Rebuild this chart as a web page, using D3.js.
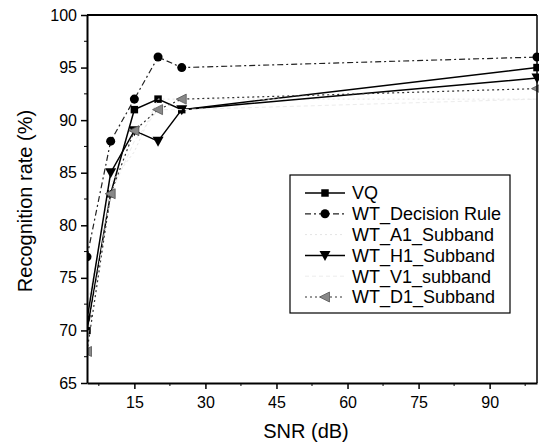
<!DOCTYPE html>
<html>
<head>
<meta charset="utf-8">
<script src="https://cdn.jsdelivr.net/npm/d3@7"></script>
<style>
  body { margin: 0; background: #fff; }
  svg { display: block; font-family: Arial, "Liberation Sans", sans-serif; }
</style>
</head>
<body>
<div id="chart"></div>
<script>
// data
var snr = [5, 10, 15, 20, 25, 100];
var vq = [70, 83, 91, 92, 91, 95];
var decisionRule = [77, 88, 92, 96, 95, 96];
var a1Subband = [72, 84, 87, 92, 92, 92];
var h1Subband = [71, 85, 89, 88, 91, 94];
var v1Subband = [69, 83, 88, 91, 91, 92];
var d1Subband = [68, 83, 89, 91, 92, 93];

var xTicks = [15, 30, 45, 60, 75, 90];
var yTicks = [65, 70, 75, 80, 85, 90, 95, 100];

var seriesNames = ["VQ", "WT_Decision Rule", "WT_A1_Subband", "WT_H1_Subband", "WT_V1_subband", "WT_D1_Subband"];
var seriesValues = [vq, decisionRule, a1Subband, h1Subband, v1Subband, d1Subband];

var W = 539, H = 446;
var margin = {top: 15, right: 2, bottom: 63, left: 87};

var x = d3.scaleLinear().domain([5, 100]).range([margin.left, W - margin.right]);
var y = d3.scaleLinear().domain([65, 100]).range([H - margin.bottom, margin.top]);

var svg = d3.select("#chart").append("svg")
    .attr("width", W)
    .attr("height", H);

// looks for each series
var styles = [
  {stroke: "#000", dash: null, width: 1.5, marker: "square", fill: "#000"},
  {stroke: "#222", dash: "6,3,2,3", width: 1.2, marker: "circle", fill: "#000"},
  {stroke: "#e4e4e4", dash: "2,3", width: 1, marker: "none", fill: "#e4e4e4"},
  {stroke: "#000", dash: null, width: 1.5, marker: "triDown", fill: "#000"},
  {stroke: "#ececec", dash: "4,3", width: 1, marker: "none", fill: "#ececec"},
  {stroke: "#333", dash: "2,3", width: 1.2, marker: "triLeft", fill: "#888"}
];

function markerPath(type) {
  if (type === "square") return d3.symbol(d3.symbolSquare, 56)();
  if (type === "circle") return d3.symbol(d3.symbolCircle, 64)();
  if (type === "triDown") return "M-5.5,-4.5L5.5,-4.5L0,5.5Z";
  if (type === "triLeft") return "M-5.5,0L4.5,-5L4.5,5Z";
  return null;
}

var line = d3.line()
    .x(function(d){ return x(d.x); })
    .y(function(d){ return y(d.y); });

// plot area clip so markers on the edges get cut like in the figure
svg.append("clipPath").attr("id", "plotclip")
  .append("rect")
    .attr("x", margin.left).attr("y", margin.top)
    .attr("width", W - margin.left)
    .attr("height", H - margin.bottom - margin.top);

var plot = svg.append("g").attr("clip-path", "url(#plotclip)");

seriesValues.forEach(function(vals, i){
  var st = styles[i];
  var pts = snr.map(function(s, j){ return {x: s, y: vals[j]}; });
  plot.append("path")
      .datum(pts)
      .attr("d", line)
      .style("fill", "none")
      .style("stroke", st.stroke)
      .style("stroke-width", st.width)
      .style("stroke-dasharray", st.dash);
  var mp = markerPath(st.marker);
  if (mp) {
    plot.selectAll(null)
        .data(pts)
        .enter().append("path")
        .attr("d", mp)
        .attr("transform", function(d){ return "translate(" + x(d.x) + "," + y(d.y) + ")"; })
        .style("fill", st.fill)
        .style("stroke", st.marker === "triLeft" ? "#555" : "none")
        .style("stroke-width", 0.8);
  }
});

// axes
var xAxis = svg.append("g")
    .attr("transform", "translate(0," + (H - margin.bottom) + ")")
    .call(d3.axisBottom(x).tickValues(xTicks).tickSize(6).tickPadding(8).tickSizeOuter(0));
xAxis.append("g").selectAll("line")
    .data([7.5, 22.5, 37.5, 52.5, 67.5, 82.5, 97.5])
    .enter().append("line")
    .attr("x1", function(d){ return x(d); }).attr("x2", function(d){ return x(d); })
    .attr("y1", 0).attr("y2", 3)
    .style("stroke", "#000");

var yAxis = svg.append("g")
    .attr("transform", "translate(" + margin.left + ",0)")
    .call(d3.axisLeft(y).tickValues(yTicks).tickSize(6).tickPadding(4).tickSizeOuter(0));
yAxis.append("g").selectAll("line")
    .data([67.5, 72.5, 77.5, 82.5, 87.5, 92.5, 97.5])
    .enter().append("line")
    .attr("y1", function(d){ return y(d); }).attr("y2", function(d){ return y(d); })
    .attr("x1", 0).attr("x2", -3)
    .style("stroke", "#000");

[xAxis, yAxis].forEach(function(a){
  a.select(".domain").style("stroke-width", 2);
  a.selectAll(".tick line").style("stroke-width", 1.5);
  a.selectAll("text").style("font-size", "16px").style("fill", "#000")
      .style("font-family", "Arial, 'Liberation Sans', sans-serif");
});

// top and right frame
svg.append("line")
    .attr("x1", margin.left).attr("x2", W - margin.right)
    .attr("y1", margin.top).attr("y2", margin.top)
    .style("stroke", "#000").style("stroke-width", 2);
svg.append("line")
    .attr("x1", W - margin.right).attr("x2", W - margin.right)
    .attr("y1", margin.top).attr("y2", H - margin.bottom)
    .style("stroke", "#000").style("stroke-width", 1.5);

// axis titles
svg.append("text")
    .attr("x", 306).attr("y", 438)
    .attr("text-anchor", "middle")
    .style("font-size", "20px")
    .text("SNR (dB)");

svg.append("text")
    .attr("transform", "translate(32,201) rotate(-90)")
    .attr("text-anchor", "middle")
    .style("font-size", "20px")
    .text("Recognition rate (%)");

// legend
var legend = svg.append("g");
legend.append("rect")
    .attr("x", 290).attr("y", 175)
    .attr("width", 220).attr("height", 138)
    .style("fill", "#fff")
    .style("stroke", "#000")
    .style("stroke-width", 1.2);

seriesNames.forEach(function(name, i){
  var st = styles[i];
  var ly = 193 + i * 20.8;
  legend.append("line")
      .attr("x1", 305).attr("x2", 345)
      .attr("y1", ly).attr("y2", ly)
      .style("stroke", st.stroke)
      .style("stroke-width", st.width)
      .style("stroke-dasharray", st.dash);
  var mp = markerPath(st.marker);
  if (mp) {
    legend.append("path")
        .attr("d", mp)
        .attr("transform", "translate(325," + ly + ")")
        .style("fill", st.fill)
        .style("stroke", st.marker === "triLeft" ? "#555" : "none")
        .style("stroke-width", 0.8);
  }
  legend.append("text")
      .attr("x", 352).attr("y", ly)
      .attr("dy", "0.35em")
      .style("font-size", "18px")
      .text(name);
});
</script>
</body>
</html>
